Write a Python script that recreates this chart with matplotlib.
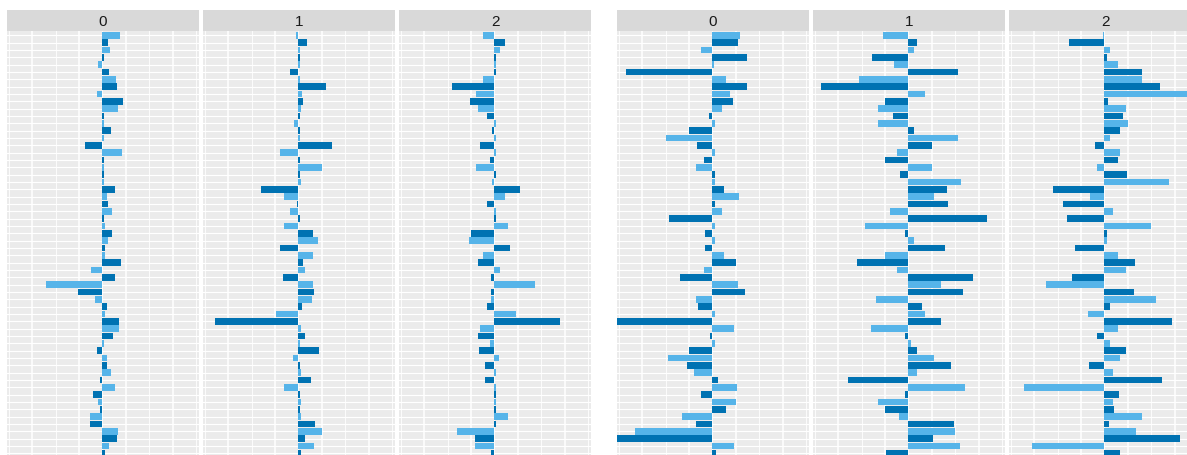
import numpy as np
import matplotlib
matplotlib.use("Agg")
import matplotlib.pyplot as plt

# facet labels shared by both plots
facets = ["0", "1", "2"]

# bar values, one per row (top to bottom); even rows = series A, odd rows = series B
left_0 = [0.75, 0.25, 0.34, 0.05, -0.19, 0.3, 0.6, 0.64, -0.23, 0.9,
          0.68, 0.08, 0.05, 0.38, 0.05, -0.75, 0.83, 0.05, 0.08, 0.05,
          0.05, 0.55, 0.2, 0.25, 0.4, 0.08, 0.1, 0.42, 0.25, 0.12,
          0.1, 0.8, -0.47, 0.55, -2.4, -1.03, -0.3, 0.2, 0.1, 0.72,
          0.72, 0.45, 0.05, -0.23, 0.2, 0.2, 0.38, -0.1, 0.55, -0.4,
          -0.2, -0.1, -0.55, -0.55, 0.68, 0.64, 0.3, 0.13]
left_1 = [-0.1, 0.38, 0.08, 0.05, 0.05, -0.35, 0.05, 1.2, 0.15, 0.2,
          0.1, 0.08, -0.2, 0.08, 0.05, 1.45, -0.77, 0.08, 1.0, 0.08,
          0.1, -1.62, -0.6, -0.08, -0.35, 0.08, -0.6, 0.64, 0.85, -0.8,
          0.64, 0.2, 0.3, -0.64, 0.64, 0.68, 0.6, 0.15, -0.94, -3.55,
          0.1, 0.3, 0.08, 0.9, -0.25, 0.08, 0.1, 0.55, -0.6, 0.08,
          0.1, 0.08, 0.1, 0.72, 1.0, 0.3, 0.68, 0.1]
left_2 = [-0.5, 0.45, 0.25, 0.05, 0.08, 0.05, -0.47, -1.8, -0.77, -1.03,
          -0.72, -0.3, 0.08, -0.12, 0.08, -0.6, 0.08, -0.2, -0.77, 0.05,
          -0.12, 1.1, 0.45, -0.3, 0.08, 0.05, 0.6, -1.0, -1.1, 0.68,
          -0.5, -0.72, 0.25, -0.15, 1.75, -0.15, -0.15, -0.3, 0.94, 2.82,
          -0.6, -0.72, -0.2, -0.64, 0.2, -0.42, 0.08, -0.42, 0.08, 0.05,
          0.08, 0.05, 0.6, 0.08, -1.62, -0.85, -0.85, -0.15]
right_0 = [1.2, 1.1, -0.5, 1.5, 0.08, -3.7, 0.6, 1.47, 0.77, 0.9,
           0.4, -0.13, 0.1, -1.0, -2.0, -0.68, 0.1, -0.38, -0.72, 0.1,
           0.1, 0.5, 1.15, 0.1, 0.4, -1.84, 0.1, -0.3, 0.1, -0.3,
           0.5, 1.0, -0.35, -1.4, 1.1, 1.4, -0.72, -0.6, 0.1, -4.1,
           0.94, -0.1, 0.1, -1.02, -1.88, -1.1, -0.77, 0.23, 1.05, -0.5,
           1.02, 0.57, -1.28, -0.72, -3.3, -4.15, 0.92, 0.17]
right_1 = [-1.1, 0.38, 0.25, -1.55, -0.6, 2.1, -2.1, -3.75, 0.72, -1.0,
           -1.3, -0.64, -1.3, 0.25, 2.1, 1.0, -0.47, -1.0, 1.0, -0.35,
           2.25, 1.65, 1.1, 1.7, -0.77, 3.35, -1.85, -0.15, 0.25, 1.55,
           -1.0, -2.2, -0.5, 2.77, 1.4, 2.35, -1.37, 0.6, 0.72, 1.4,
           -1.58, -0.15, 0.1, 0.35, 1.1, 1.8, 0.38, -2.6, 2.4, -0.15,
           -1.3, -1.0, -0.42, 1.95, 2.0, 1.05, 2.2, -0.95]
right_2 = [-0.05, -1.5, 0.26, 0.13, 0.56, 1.6, 1.6, 2.36, 3.7, 0.17,
           0.94, 0.8, 1.0, 0.66, 0.25, -0.4, 0.66, 0.6, -0.3, 0.98,
           2.78, -2.2, -0.6, -1.75, 0.38, -1.6, 2.0, 0.1, 0.1, -1.25,
           0.6, 1.3, 0.94, -1.37, -2.5, 1.25, 2.2, 0.25, -0.7, 2.9,
           0.6, -0.3, 0.25, 0.94, 0.68, -0.64, 0.38, 2.48, -3.42, 0.64,
           0.38, 0.42, 1.62, 0.2, 1.37, 3.25, -3.1, 0.68]

groups = [[left_0, left_1, left_2], [right_0, right_1, right_2]]

LIGHT = "#56B4E9"
DARK = "#0072B2"
PANEL_BG = "#EBEBEB"
STRIP_BG = "#D9D9D9"

W, H = 1187, 456
fig = plt.figure(figsize=(W / 100, H / 100), dpi=100)
fig.patch.set_facecolor("white")

# panel left edges in pixels
panel_lefts = [[7, 203, 399], [617, 813, 1009]]
panel_w = 192
panel_top = 32
strip_top = 11
row_px = 7.33

n_rows = len(left_0)
y_bottom = (H - panel_top) / row_px - 0.6
xlim = (-4.08, 4.13)

for g, group in enumerate(groups):
    for p, values in enumerate(group):
        x0 = panel_lefts[g][p]
        ax = fig.add_axes([x0 / W, 0, panel_w / W, (H - panel_top) / H])
        ax.set_facecolor(PANEL_BG)
        ax.set_xlim(*xlim)
        ax.set_ylim(y_bottom, -0.6)
        for s in ax.spines.values():
            s.set_visible(False)
        ax.set_xticks([])
        ax.set_yticks([])
        # white grid: vertical guides every unit, one horizontal guide per row
        for xv in range(-4, 5):
            lw = 1.1 if xv % 2 else 0.6
            ax.axvline(xv, color="white", lw=lw, zorder=0.5)
        for yv in range(n_rows + 1):
            ax.axhline(yv, color="white", lw=0.8, zorder=0.5)
        pos = np.arange(n_rows)
        cols = [LIGHT if i % 2 == 0 else DARK for i in pos]
        ax.barh(pos, values, height=0.9, color=cols, zorder=2, linewidth=0)

        sax = fig.add_axes([x0 / W, (H - panel_top) / H, panel_w / W,
                            (panel_top - strip_top) / H])
        sax.set_facecolor(STRIP_BG)
        for s in sax.spines.values():
            s.set_visible(False)
        sax.set_xticks([])
        sax.set_yticks([])
        sax.text(0.5, 0.5, facets[p], ha="center", va="center",
                 fontsize=11, color="#1A1A1A", family="Liberation Sans",
                 transform=sax.transAxes)

fig.savefig("out.png", dpi=100)
